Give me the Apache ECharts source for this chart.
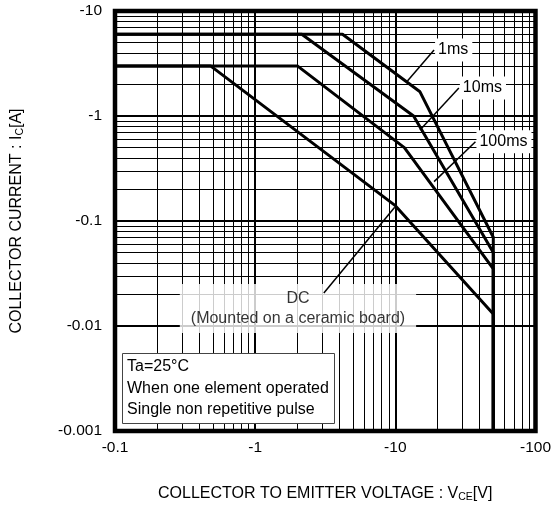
<!DOCTYPE html>
<html>
<head>
<meta charset="utf-8">
<script src="https://cdn.jsdelivr.net/npm/echarts@6/dist/echarts.min.js"></script>
<style>
  html,body{margin:0;padding:0;background:#fff;}
  #soa{width:554px;height:508px;}
</style>
</head>
<body>
<div id="soa"></div>
<script>
  // safe operating area curves [VCE, IC]
  var curve1ms   = [[0.1, 6], [4.2, 6], [15, 1.7], [50, 0.07], [50, 0.001]];
  var curve10ms  = [[0.1, 6], [2.15, 6], [13.5, 1.0], [50, 0.05], [50, 0.001]];
  var curve100ms = [[0.1, 3], [2, 3], [11.6, 0.5], [50, 0.035], [50, 0.001]];
  var curveDC    = [[0.1, 3], [0.48, 3], [10, 0.14], [50, 0.013], [50, 0.001]];

  // leader lines for the labels
  var lead1ms   = [[12.2, 2.15], [18.9, 4.25]];
  var lead10ms  = [[15.0, 0.735], [28.4, 1.85]];
  var lead100ms = [[18.9, 0.237], [37.3, 0.569]];
  var leadDC    = [[9.9, 0.135], [3.09, 0.0206]];
  var noteDC    = [2.02, 0.0147];

  // minor grid of the log paper
  var xMinor = [0.2, 0.3, 0.4, 0.5, 0.6, 0.7, 0.8, 0.9,
                2, 3, 4, 5, 6, 7, 8, 9,
                20, 30, 40, 50, 60, 70, 80, 90];
  var yMinor = [0.002, 0.003, 0.004, 0.005, 0.006, 0.007, 0.008, 0.009,
                0.02, 0.03, 0.04, 0.05, 0.06, 0.07, 0.08, 0.09,
                0.2, 0.3, 0.4, 0.5, 0.6, 0.7, 0.8, 0.9,
                2, 3, 4, 5, 6, 7, 8, 9];

  var FONT = '"Liberation Sans", Arial, sans-serif';

  function negLabel(v){
    return '-' + (+v.toPrecision(3));
  }

  function leaderSeries(name, pts, text){
    return {
      name: name,
      type: 'line',
      z: 4,
      symbol: 'circle',
      symbolSize: 0,
      lineStyle: {color: '#000', width: 1.5},
      label: {show: false},
      data: [
        pts[0],
        {
          value: pts[1],
          label: {
            show: true,
            position: 'right',
            distance: 1,
            formatter: text,
            backgroundColor: '#fff',
            padding: [4, 4, 3, 3],
            fontSize: 16,
            fontFamily: FONT,
            color: '#000'
          }
        }
      ]
    };
  }

  function curveSeries(name, pts){
    return {
      name: name,
      type: 'line',
      z: 3,
      symbol: 'none',
      lineStyle: {color: '#000', width: 3},
      data: pts
    };
  }

  var option = {
    animation: false,
    title: {
      text: 'Ta=25°C\nWhen one element operated\nSingle non repetitive pulse',
      left: 122,
      top: 353,
      backgroundColor: '#fff',
      borderColor: '#444',
      borderWidth: 1,
      padding: [3, 6, 3, 5],
      textStyle: {
        fontSize: 16,
        fontWeight: 'normal',
        lineHeight: 21.5,
        color: '#000',
        fontFamily: FONT
      }
    },
    grid: {
      left: 114, right: 17, top: 11, bottom: 77,
      show: true,
      borderColor: '#000',
      borderWidth: 4.5
    },
    xAxis: {
      type: 'log',
      logBase: 10,
      min: 0.1,
      max: 100,
      name: 'COLLECTOR TO EMITTER VOLTAGE : V{s|CE}[V]',
      nameLocation: 'middle',
      nameGap: 54,
      nameTextStyle: {
        fontSize: 16, color: '#000', fontFamily: FONT, lineHeight: 18,
        rich: {s: {fontSize: 10.5, verticalAlign: 'bottom', lineHeight: 18, fontFamily: FONT, color: '#000'}}
      },
      axisLine: {show: false},
      axisTick: {show: false},
      axisLabel: {fontSize: 15.5, color: '#000', fontFamily: FONT, margin: 9, formatter: negLabel},
      splitLine: {show: true, lineStyle: {color: '#000', width: 2}}
    },
    yAxis: {
      type: 'log',
      logBase: 10,
      min: 0.001,
      max: 10,
      name: 'COLLECTOR CURRENT : I{s|C}[A]',
      nameLocation: 'middle',
      nameGap: 89,
      nameTextStyle: {
        fontSize: 16, color: '#000', fontFamily: FONT, lineHeight: 18,
        rich: {s: {fontSize: 10.5, verticalAlign: 'bottom', lineHeight: 18, fontFamily: FONT, color: '#000'}}
      },
      axisLine: {show: false},
      axisTick: {show: false},
      axisLabel: {fontSize: 15.5, color: '#000', fontFamily: FONT, margin: 13, formatter: negLabel},
      splitLine: {show: true, lineStyle: {color: '#000', width: 2}}
    },
    series: [
      {
        name: 'minor grid',
        type: 'line',
        z: 1,
        data: [],
        markLine: {
          z: 1,
          silent: true,
          symbol: 'none',
          label: {show: false},
          lineStyle: {color: '#000', width: 1, type: 'solid'},
          data: xMinor.map(function (v) { return {xAxis: v}; })
            .concat(yMinor.map(function (v) { return {yAxis: v}; }))
        }
      },
      curveSeries('1ms', curve1ms),
      curveSeries('10ms', curve10ms),
      curveSeries('100ms', curve100ms),
      curveSeries('DC', curveDC),
      leaderSeries('lead 1ms', lead1ms, '1ms'),
      leaderSeries('lead 10ms', lead10ms, '10ms'),
      leaderSeries('lead 100ms', lead100ms, '100ms'),
      {
        name: 'note DC',
        type: 'scatter',
        z: 3,
        symbolSize: 0,
        data: [{
          value: noteDC,
          label: {
            show: true,
            position: 'inside',
            formatter: 'DC\n(Mounted on a ceramic board)',
            backgroundColor: '#fff',
            padding: [4, 11, 5, 11],
            lineHeight: 20,
            align: 'center',
            fontSize: 16,
            fontFamily: FONT,
            color: '#000'
          }
        }]
      },
      {
        name: 'lead DC',
        type: 'line',
        z: 4,
        symbol: 'none',
        lineStyle: {color: '#000', width: 1.5},
        data: leadDC
      }
    ]
  };

  var myChart = echarts.init(document.getElementById('soa'));
  myChart.setOption(option);
</script>
</body>
</html>
